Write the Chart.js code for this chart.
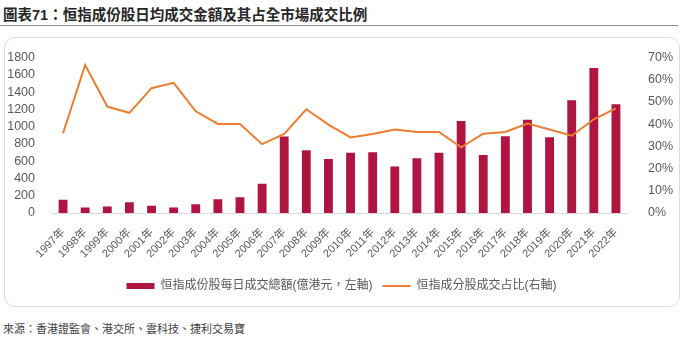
<!DOCTYPE html>
<html>
<head>
<meta charset="utf-8">
<script src="https://cdn.jsdelivr.net/npm/chart.js@4/dist/chart.umd.min.js"></script>
<style>
  body { margin: 0; width: 683px; height: 340px; background: #fff; position: relative; overflow: hidden;
         font-family: 'Liberation Sans', 'Noto Sans CJK TC', sans-serif; }
  #title { position: absolute; left: 3px; top: 3px; font-size: 14.5px; font-weight: bold; color: #262626; }
  #rule { position: absolute; left: 0; top: 25px; width: 678px; height: 1px; background: #8c8c8c; }
  #box { position: absolute; left: 4px; top: 37px; width: 674px; height: 268px; border: 1px solid #dcdcdc; border-radius: 11px; }
  #wrap { position: absolute; left: 4px; top: 37px; width: 675px; height: 269px; }
  #source { position: absolute; left: 3px; top: 320px; font-size: 11px; color: #404040; }
</style>
</head>
<body>
<div id="title">圖表71：恒指成份股日均成交金額及其占全市場成交比例</div>
<div id="rule"></div>
<div id="box"></div>
<div id="wrap"><canvas id="chart"></canvas></div>
<div id="source">來源：香港證監會、港交所、雲科技、捷利交易寶</div>
<script>
// data
var years = ['1997年', '1998年', '1999年', '2000年', '2001年', '2002年', '2003年', '2004年', '2005年', '2006年',
             '2007年', '2008年', '2009年', '2010年', '2011年', '2012年', '2013年', '2014年', '2015年', '2016年',
             '2017年', '2018年', '2019年', '2020年', '2021年', '2022年'];
var turnover = [152, 64, 75, 124, 83, 63, 102, 158, 181, 339,
                885, 727, 625, 696, 704, 538, 633, 696, 1065, 670,
                888, 1080, 877, 1306, 1679, 1258];
var share = [35.9, 66.6, 47.9, 45.1, 56.2, 58.6, 45.8, 40.1, 40.1, 31.0,
             35.6, 46.7, 39.8, 34.0, 35.6, 37.6, 36.5, 36.5, 29.6, 35.7,
             36.5, 40.3, 37.6, 34.8, 42.2, 47.1];
var leftTicks = [0, 200, 400, 600, 800, 1000, 1200, 1400, 1600, 1800];
var rightTicks = [0, 10, 20, 30, 40, 50, 60, 70];

var font = "'Liberation Sans', 'Noto Sans CJK TC', sans-serif";
var grey = '#595959';

var ctx = document.getElementById('chart').getContext('2d');
var chart = new Chart(ctx, {
  data: {
    labels: years,
    datasets: [{
      type: 'line',
      label: '恒指成分股成交占比(右軸)',
      data: share,
      yAxisID: 'y1',
      borderColor: '#ED7D31',
      backgroundColor: '#ED7D31',
      borderWidth: 2,
      pointRadius: 0,
      pointStyle: 'line',
      tension: 0,
      order: 1
    }, {
      type: 'bar',
      label: '恒指成份股每日成交總額(億港元，左軸)',
      data: turnover,
      yAxisID: 'y',
      backgroundColor: '#B01542',
      borderWidth: 0,
      pointStyle: 'rect',
      categoryPercentage: 1,
      barPercentage: 0.4,
      order: 2
    }]
  },
  options: {
    responsive: true,
    maintainAspectRatio: false,
    animation: false,
    layout: { padding: { left: 0, right: 0, top: 0, bottom: 4 } },
    plugins: {
      tooltip: { enabled: false },
      legend: {
        position: 'bottom',
        reverse: true,
        labels: {
          usePointStyle: true,
          pointStyleWidth: 28,
          boxHeight: 6,
          padding: 10,
          color: grey,
          font: { family: font, size: 12 }
        }
      }
    },
    scales: {
      x: {
        grid: { display: false },
        border: { display: true, color: '#d9d9d9' },
        ticks: {
          color: grey, font: { family: font, size: 11 },
          minRotation: 45, maxRotation: 45, padding: 5, autoSkip: false
        },
        afterFit: function (s) { s.height = 57; }
      },
      y: {
        position: 'left',
        min: 0, max: 1800,
        grid: { display: false },
        border: { display: false },
        afterBuildTicks: function (s) { s.ticks = leftTicks.map(function (v) { return { value: v }; }); },
        ticks: {
          color: grey, font: { family: font, size: 12.5 }, padding: 9, autoSkip: false,
          callback: function (v) { return String(v); }
        },
        afterFit: function (s) { s.width = 48; }
      },
      y1: {
        position: 'right',
        min: 0, max: 70,
        grid: { display: false },
        border: { display: false },
        afterBuildTicks: function (s) { s.ticks = rightTicks.map(function (v) { return { value: v }; }); },
        ticks: {
          color: grey, font: { family: font, size: 12.5 }, padding: 13, autoSkip: false,
          callback: function (v) { return v + '%'; }
        },
        afterFit: function (s) { s.width = 52; }
      }
    }
  }
});
</script>
</body>
</html>
